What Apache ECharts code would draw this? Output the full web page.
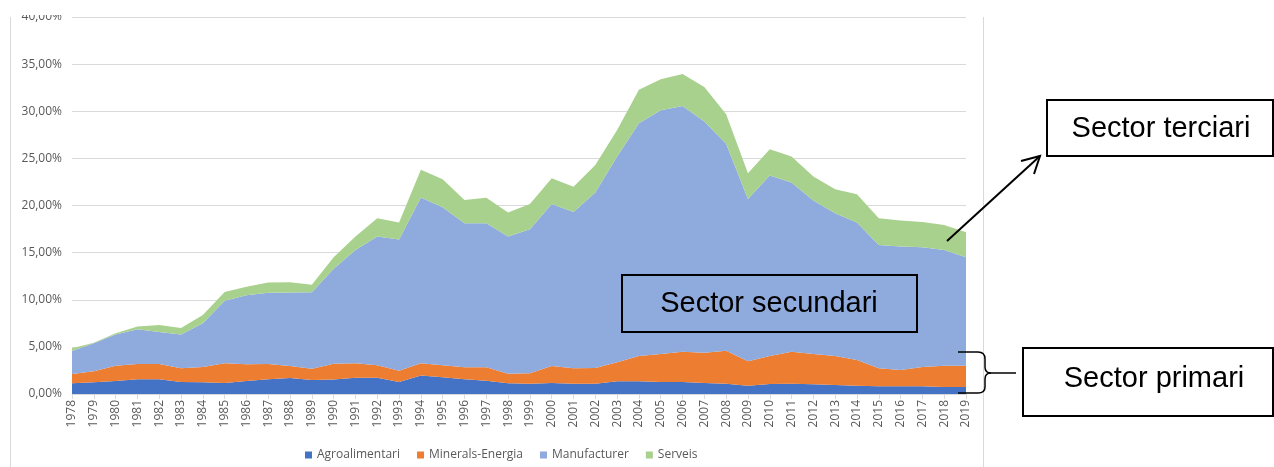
<!DOCTYPE html>
<html>
<head>
<meta charset="utf-8">
<script src="https://cdn.jsdelivr.net/npm/echarts@6/dist/echarts.min.js"></script>
<style>
html,body{margin:0;padding:0;background:#fff;}
#chart{width:1274px;height:467px;}
</style>
</head>
<body>
<div id="chart"></div>
<script>
const years = ['1978','1979','1980','1981','1982','1983','1984','1985','1986','1987','1988','1989','1990','1991','1992','1993','1994','1995','1996','1997','1998','1999','2000','2001','2002','2003','2004','2005','2006','2007','2008','2009','2010','2011','2012','2013','2014','2015','2016','2017','2018','2019'];
const agroalimentari = [1.14,1.24,1.38,1.56,1.56,1.27,1.24,1.17,1.38,1.56,1.70,1.49,1.55,1.73,1.73,1.27,1.95,1.77,1.56,1.41,1.13,1.10,1.17,1.10,1.10,1.34,1.34,1.27,1.27,1.17,1.10,0.88,1.06,1.10,1.03,0.96,0.88,0.81,0.81,0.81,0.74,0.74];
const mineralsEnergia = [0.98,1.17,1.63,1.62,1.62,1.46,1.63,2.09,1.77,1.62,1.27,1.20,1.65,1.53,1.31,1.21,1.31,1.27,1.27,1.42,1.03,1.10,1.80,1.63,1.66,2.02,2.69,2.98,3.22,3.21,3.50,2.59,2.97,3.39,3.22,3.07,2.73,1.92,1.74,2.06,2.26,2.26];
const manufacturer = [2.44,2.97,3.29,3.69,3.40,3.57,4.63,6.64,7.33,7.57,7.81,8.11,10.10,12.03,13.66,13.92,17.58,16.78,15.29,15.29,14.54,15.28,17.20,16.59,18.61,21.83,24.71,25.85,26.08,24.52,21.94,17.23,19.14,17.94,16.27,15.15,14.58,13.09,13.09,12.70,12.29,11.51];
const serveis = [0.29,0.07,0.14,0.28,0.75,0.70,0.89,0.93,0.91,1.07,1.08,0.80,1.20,1.41,1.95,1.79,2.94,2.97,2.47,2.69,2.55,2.69,2.73,2.68,2.94,2.81,3.53,3.30,3.37,3.66,3.15,2.73,2.80,2.76,2.55,2.55,3.01,2.83,2.76,2.69,2.65,2.65];
const seriesNames = ['Agroalimentari','Minerals-Energia','Manufacturer','Serveis'];
const colors = ['#4472C4','#ED7D31','#8FAADC','#A9D18E'];
const yTicks = {min:0, max:40, interval:5};

const chart = echarts.init(document.getElementById('chart'), null, {renderer:'canvas'});
const values = [agroalimentari, mineralsEnergia, manufacturer, serveis];
const tickFont = {fontFamily:'Open Sans', fontSize:12, color:'#595959'};
const annFont = 'Liberation Sans';
const blk = {stroke:'#000', lineWidth:1.5, fill:null};

chart.setOption({
  animation:false,
  color: colors,
  grid:{left:72, right:308, top:17, bottom:73, containLabel:false},
  xAxis:{
    type:'category', data:years, boundaryGap:false,
    axisLine:{lineStyle:{color:'#d9d9d9'}},
    axisTick:{show:true, length:5, lineStyle:{color:'#d9d9d9'}},
    axisLabel:Object.assign({rotate:90, interval:0, margin:6}, tickFont)
  },
  yAxis:{
    type:'value', min:yTicks.min, max:yTicks.max, interval:yTicks.interval,
    axisLine:{show:false}, axisTick:{show:false},
    splitLine:{lineStyle:{color:'#d9d9d9', width:1}},
    axisLabel:Object.assign({margin:10, formatter:v => v.toFixed(2).replace('.', ',') + '%'}, tickFont)
  },
  legend:{
    data:seriesNames, left:300, top:444, icon:'rect', itemWidth:7, itemHeight:7, itemGap:17,
    textStyle:tickFont
  },
  series: seriesNames.map((n,i)=>({
    name:n, type:'line', stack:'total', data:values[i], symbol:'none',
    lineStyle:{width:0}, areaStyle:{color:colors[i], opacity:1},
    itemStyle:{color:colors[i]}, emphasis:{disabled:true}
  })),
  graphic:[
    {type:'rect', z:100, shape:{x:0,y:0,width:1000,height:15}, style:{fill:'#fff'}},
    {type:'line', z:100, shape:{x1:10.5,y1:17,x2:10.5,y2:467}, style:{stroke:'#d9d9d9', lineWidth:1}},
    {type:'line', z:100, shape:{x1:983.5,y1:17,x2:983.5,y2:467}, style:{stroke:'#d9d9d9', lineWidth:1}},
    {type:'rect', z:100, shape:{x:622,y:275,width:295,height:57}, style:{fill:'transparent', stroke:'#000', lineWidth:2}},
    {type:'text', z:101, x:769, y:304, style:{text:'Sector secundari', font:'29px "'+annFont+'"', fill:'#000', textAlign:'center', textVerticalAlign:'middle'}},
    {type:'rect', z:100, shape:{x:1047,y:100,width:226,height:56}, style:{fill:'#fff', stroke:'#000', lineWidth:2}},
    {type:'text', z:101, x:1161, y:129, style:{text:'Sector terciari', font:'29px "'+annFont+'"', fill:'#000', textAlign:'center', textVerticalAlign:'middle'}},
    {type:'rect', z:100, shape:{x:1023,y:348,width:250,height:68}, style:{fill:'#fff', stroke:'#000', lineWidth:2}},
    {type:'text', z:101, x:1154, y:379, style:{text:'Sector primari', font:'29px "'+annFont+'"', fill:'#000', textAlign:'center', textVerticalAlign:'middle'}},
    {type:'line', z:100, shape:{x1:947,y1:241,x2:1040,y2:156}, style:{stroke:'#000', lineWidth:2}},
    {type:'polyline', z:100, shape:{points:[[1021,161],[1040,156],[1034,174]]}, style:{stroke:'#000', lineWidth:2, fill:null}},
    {type:'line', z:100, shape:{x1:958,y1:352,x2:978,y2:352}, style:blk},
    {type:'bezierCurve', z:100, shape:{x1:978,y1:352,cpx1:985,cpy1:352,x2:985,y2:359}, style:blk},
    {type:'line', z:100, shape:{x1:985,y1:359,x2:985,y2:367}, style:blk},
    {type:'bezierCurve', z:100, shape:{x1:985,y1:367,cpx1:985,cpy1:373,x2:991,y2:373}, style:blk},
    {type:'bezierCurve', z:100, shape:{x1:991,y1:373,cpx1:985,cpy1:373,x2:985,y2:379}, style:blk},
    {type:'line', z:100, shape:{x1:985,y1:379,x2:985,y2:387}, style:blk},
    {type:'bezierCurve', z:100, shape:{x1:985,y1:387,cpx1:985,cpy1:393,x2:978,y2:393}, style:blk},
    {type:'line', z:100, shape:{x1:978,y1:393,x2:958,y2:393}, style:blk},
    {type:'line', z:100, shape:{x1:991,y1:373,x2:1016,y2:373}, style:blk}
  ]
});
</script>
</body>
</html>
